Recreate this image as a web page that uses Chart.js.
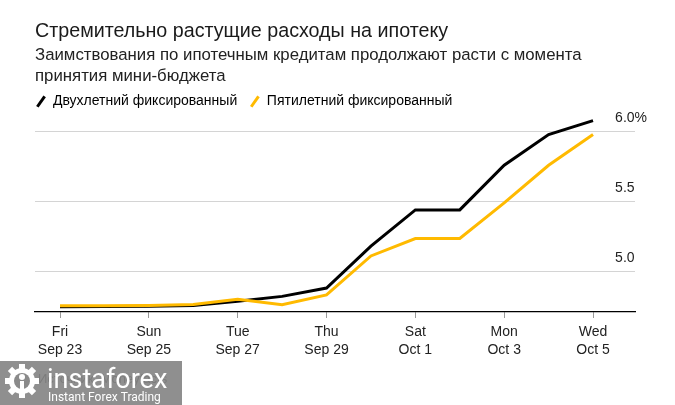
<!DOCTYPE html>
<html>
<head>
<meta charset="utf-8">
<script src="https://cdn.jsdelivr.net/npm/chart.js@4.4.0/dist/chart.umd.min.js"></script>
<style>
  html, body { margin: 0; padding: 0; background: #fff; }
  #wrap { width: 675px; height: 405px; position: relative; }
</style>
</head>
<body>
<div id="wrap"><canvas id="myChart"></canvas></div>
<script>
// daily points, Sep 23 .. Oct 5
const days = ['Sep 23', 'Sep 24', 'Sep 25', 'Sep 26', 'Sep 27', 'Sep 28', 'Sep 29',
              'Sep 30', 'Oct 1', 'Oct 2', 'Oct 3', 'Oct 4', 'Oct 5'];
const twoYear  = [4.745, 4.747, 4.75, 4.755, 4.785, 4.82, 4.88, 5.18, 5.44, 5.44, 5.76, 5.98, 6.08];
const fiveYear = [4.752, 4.752, 4.755, 4.762, 4.80, 4.76, 4.83, 5.11, 5.235, 5.235, 5.49, 5.76, 5.98];

const tickIndex  = [0, 2, 4, 6, 8, 10, 12];
const tickTop    = ['Fri', 'Sun', 'Tue', 'Thu', 'Sat', 'Mon', 'Wed'];
const tickBottom = ['Sep 23', 'Sep 25', 'Sep 27', 'Sep 29', 'Oct 1', 'Oct 3', 'Oct 5'];
const yTicks = [5.0, 5.5, 6.0];

const seriesNames = ['Двухлетний фиксированный', 'Пятилетний фиксированный'];
const seriesColors = ['#000000', '#FFBA00'];

Chart.defaults.font.family = '"Liberation Sans", Arial, sans-serif';
Chart.defaults.color = '#222';

const watermark = {
    id: 'watermark',
    afterDraw(chart) {
        const c = chart.ctx;
        c.save();
        c.font = '13px "Liberation Sans", Arial, sans-serif';
        c.fillStyle = '#666';
        c.textBaseline = 'middle';
        c.fillText('Источник: Moneyfacts', 38, 379);

        c.fillStyle = 'rgba(128,128,128,0.88)';
        c.fillRect(0, 361, 182, 44);

        // gear
        c.fillStyle = '#fff';
        c.translate(22, 381);
        c.beginPath();
        for (let i = 0; i < 8; i++) {
            c.save();
            c.rotate(i * Math.PI / 4);
            c.rect(-3, -17, 6, 6);
            c.restore();
        }
        c.fill();
        c.beginPath();
        c.arc(0, 0, 13, 0, Math.PI * 2);
        c.fill();
        c.fillStyle = '#8a8a8a';
        c.beginPath();
        c.arc(0, 0, 8, 0, Math.PI * 2);
        c.fill();
        c.fillStyle = '#fff';
        c.beginPath();
        c.arc(0, -4, 3, 0, Math.PI * 2);
        c.fill();
        c.fillRect(-2, 0, 4, 12);
        c.setTransform(1, 0, 0, 1, 0, 0);

        c.fillStyle = '#fff';
        c.textBaseline = 'alphabetic';
        c.font = '27px Roboto, "Liberation Sans", sans-serif';
        c.fillText('instaforex', 47, 388);
        c.font = '12px Roboto, "Liberation Sans", sans-serif';
        c.fillText('Instant Forex Trading', 48, 401);
        c.restore();
    }
};

const ctx = document.getElementById('myChart').getContext('2d');

new Chart(ctx, {
    type: 'line',
    data: {
        datasets: [
            {
                label: seriesNames[0],
                data: twoYear.map((v, i) => ({ x: i, y: v })),
                borderColor: seriesColors[0],
                backgroundColor: seriesColors[0],
                borderWidth: 3,
                pointRadius: 0,
                tension: 0,
                order: 2
            },
            {
                label: seriesNames[1],
                data: fiveYear.map((v, i) => ({ x: i, y: v })),
                borderColor: seriesColors[1],
                backgroundColor: seriesColors[1],
                borderWidth: 3,
                pointRadius: 0,
                tension: 0,
                order: 1
            }
        ]
    },
    options: {
        responsive: true,
        maintainAspectRatio: false,
        animation: false,
        layout: { padding: { left: 35, right: 0, top: 0, bottom: 43 } },
        plugins: {
            title: {
                display: true,
                text: 'Стремительно растущие расходы на ипотеку',
                align: 'start',
                color: '#1a1a1a',
                font: { size: 19.7, weight: 'normal', lineHeight: 1.2 },
                padding: { top: 20, bottom: 0 }
            },
            subtitle: {
                display: true,
                text: ['Заимствования по ипотечным кредитам продолжают расти с момента', 'принятия мини-бюджета'],
                align: 'start',
                color: '#222',
                font: { size: 16.8, lineHeight: 1.25 },
                padding: { top: 1.4, bottom: 6.5 }
            },
            legend: {
                display: true,
                position: 'top',
                align: 'start',
                labels: {
                    usePointStyle: true,
                    boxWidth: 10,
                    boxHeight: 9,
                    padding: 1,
                    color: '#222',
                    font: { size: 14 },
                    generateLabels: () => seriesNames.map((name, i) => ({
                        text: i === 0 ? name + '   ' : name,
                        fillStyle: seriesColors[i],
                        strokeStyle: seriesColors[i],
                        lineWidth: 3,
                        pointStyle: 'line',
                        rotation: -55,
                        datasetIndex: i
                    }))
                }
            },
            tooltip: { enabled: false }
        },
        scales: {
            x: {
                type: 'linear',
                min: -0.563,
                max: 12.945,
                afterBuildTicks: (scale) => {
                    scale.ticks = tickIndex.map(v => ({ value: v }));
                },
                afterFit: (scale) => { scale.height = 50; },
                grid: {
                    drawOnChartArea: false,
                    drawTicks: true,
                    tickLength: 6,
                    color: '#999'
                },
                border: { display: true, color: '#000', width: 1.2 },
                ticks: {
                    autoSkip: false,
                    maxRotation: 0,
                    padding: 5,
                    color: '#222',
                    font: { size: 14, lineHeight: 1.3 },
                    callback: (value) => {
                        const k = tickIndex.indexOf(value);
                        return k >= 0 ? [tickTop[k], tickBottom[k]] : '';
                    }
                }
            },
            y: {
                type: 'linear',
                position: 'right',
                min: 4.708,
                max: 6.095,
                afterBuildTicks: (scale) => {
                    scale.ticks = yTicks.map(v => ({ value: v }));
                },
                afterFit: (scale) => { scale.width = 40; },
                grid: {
                    drawTicks: false,
                    color: '#d4d4d4',
                    lineWidth: 1
                },
                border: { display: false },
                ticks: {
                    mirror: true,
                    crossAlign: 'far',
                    padding: 12,
                    labelOffset: -13.5,
                    color: '#222',
                    font: { size: 14 },
                    callback: (value) => value === 6 ? value.toFixed(1) + '%' : value.toFixed(1)
                }
            }
        }
    },
    plugins: [watermark]
});
</script>
</body>
</html>
